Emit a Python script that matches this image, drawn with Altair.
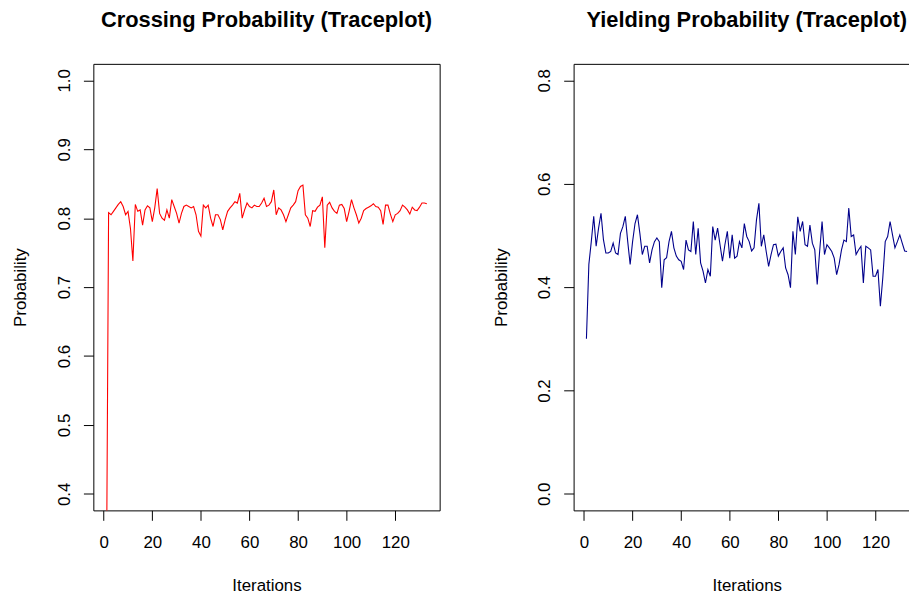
import altair as alt
import pandas as pd

iterations = list(range(1, 134))

crossing = [
    0.20, 0.808, 0.805, 0.810, 0.815, 0.820, 0.824, 0.817, 0.805, 0.810,
    0.785, 0.738, 0.820, 0.810, 0.812, 0.790, 0.812, 0.818, 0.815, 0.795,
    0.815, 0.843, 0.807, 0.800, 0.797, 0.812, 0.800, 0.827, 0.817, 0.807,
    0.793, 0.807, 0.817, 0.819, 0.817, 0.815, 0.817, 0.805, 0.781, 0.774,
    0.819, 0.815, 0.819, 0.800, 0.788, 0.805, 0.805, 0.798, 0.783, 0.798,
    0.810, 0.815, 0.819, 0.824, 0.822, 0.836, 0.800, 0.812, 0.822, 0.817,
    0.815, 0.819, 0.817, 0.817, 0.822, 0.829, 0.817, 0.819, 0.824, 0.841,
    0.805, 0.815, 0.812, 0.805, 0.795, 0.805, 0.815, 0.819, 0.824, 0.840,
    0.846, 0.848, 0.805, 0.800, 0.788, 0.811, 0.810, 0.816, 0.819, 0.831,
    0.757, 0.819, 0.823, 0.815, 0.810, 0.807, 0.819, 0.820, 0.814, 0.795,
    0.810, 0.827, 0.815, 0.805, 0.793, 0.800, 0.811, 0.814, 0.816, 0.818,
    0.821, 0.817, 0.816, 0.811, 0.791, 0.819, 0.819, 0.806, 0.795, 0.805,
    0.807, 0.811, 0.819, 0.816, 0.812, 0.806, 0.816, 0.812, 0.811, 0.816,
    0.822, 0.822, 0.821,
]

yielding = [
    0.300, 0.444, 0.488, 0.537, 0.479, 0.514, 0.543, 0.492, 0.466, 0.466,
    0.469, 0.485, 0.466, 0.463, 0.504, 0.517, 0.537, 0.488, 0.444, 0.488,
    0.523, 0.540, 0.504, 0.463, 0.479, 0.479, 0.447, 0.472, 0.488, 0.495,
    0.488, 0.399, 0.453, 0.457, 0.488, 0.508, 0.476, 0.460, 0.453, 0.450,
    0.434, 0.491, 0.472, 0.469, 0.527, 0.463, 0.514, 0.447, 0.431, 0.408,
    0.434, 0.421, 0.517, 0.491, 0.514, 0.482, 0.450, 0.482, 0.508, 0.456,
    0.501, 0.456, 0.460, 0.488, 0.476, 0.523, 0.498, 0.488, 0.470, 0.476,
    0.530, 0.562, 0.479, 0.501, 0.469, 0.440, 0.463, 0.482, 0.483, 0.460,
    0.469, 0.476, 0.437, 0.424, 0.399, 0.508, 0.463, 0.536, 0.508, 0.527,
    0.482, 0.479, 0.520, 0.485, 0.472, 0.405, 0.469, 0.527, 0.463, 0.482,
    0.476, 0.469, 0.456, 0.424, 0.444, 0.472, 0.491, 0.488, 0.553, 0.498,
    0.501, 0.463, 0.472, 0.479, 0.408, 0.479, 0.476, 0.472, 0.421, 0.421,
    0.434, 0.363, 0.418, 0.488, 0.498, 0.527, 0.501, 0.476, 0.488, 0.501,
    0.485, 0.470, 0.469,
]

x_ticks = [0, 20, 40, 60, 80, 100, 120]
crossing_ticks = [0.4, 0.5, 0.6, 0.7, 0.8, 0.9, 1.0]
yielding_ticks = [0.0, 0.2, 0.4, 0.6, 0.8]

titles = ["Crossing Probability (Traceplot)", "Yielding Probability (Traceplot)"]

df = pd.DataFrame({"Iterations": iterations, "Crossing": crossing, "Yielding": yielding})

FONT = "Liberation Sans"
W, H = 349, 450


def x_axis():
    return alt.Axis(
        values=x_ticks, title="Iterations", grid=False, domain=False,
        tickSize=10, tickColor="black", tickWidth=1,
        labelPadding=27, labelBaseline="alphabetic", labelFontSize=17,
        labelFont=FONT, labelColor="black", labelFlush=False, labelOverlap=False,
        titleFontSize=17, titleFont=FONT, titleFontWeight="normal",
        titleColor="black", titleBaseline="alphabetic", titleY=81, titleX=W / 2,
        titleAlign="center",
    )


def y_axis(vals):
    return alt.Axis(
        values=vals, format=".1f", title="Probability", grid=False, domain=False,
        tickSize=10, tickColor="black", tickWidth=1,
        labelAngle=270, labelAlign="center", labelBaseline="alphabetic",
        labelPadding=14, labelFontSize=17, labelFont=FONT, labelColor="black",
        labelFlush=False, labelOverlap=False,
        titleAngle=270, titleAlign="center", titleBaseline="alphabetic",
        titleX=-68, titleY=H / 2, titleFontSize=17, titleFont=FONT,
        titleFontWeight="normal", titleColor="black",
    )


def title(text):
    return alt.TitleParams(
        text, fontSize=22, fontWeight="bold", font=FONT, color="black",
        anchor="middle", frame="group", baseline="alphabetic", offset=15,
    )


x_scale = alt.Scale(domain=[-4.28, 138.28], nice=False, zero=False)

left = alt.Chart(df).mark_line(color="#FF0000", strokeWidth=1.1, clip=True).encode(
    x=alt.X("Iterations:Q", scale=x_scale, axis=x_axis()),
    y=alt.Y("Crossing:Q", scale=alt.Scale(domain=[0.376, 1.024], nice=False, zero=False),
            axis=y_axis(crossing_ticks)),
).properties(width=W, height=H, title=title(titles[0]))

right = alt.Chart(df).mark_line(color="#00008B", strokeWidth=1.1, clip=True).encode(
    x=alt.X("Iterations:Q", scale=x_scale, axis=x_axis()),
    y=alt.Y("Yielding:Q", scale=alt.Scale(domain=[-0.032, 0.832], nice=False, zero=False),
            axis=y_axis(yielding_ticks)),
).properties(width=W, height=H, title=title(titles[1]))

chart = alt.hconcat(left, right, spacing=135, bounds="flush").properties(
    padding={"left": 3, "top": -2, "right": -12, "bottom": 0},
    background="white",
).configure_view(stroke="black", strokeWidth=1)

chart.save("out.html", embed_options={"renderer": "svg", "actions": False})
